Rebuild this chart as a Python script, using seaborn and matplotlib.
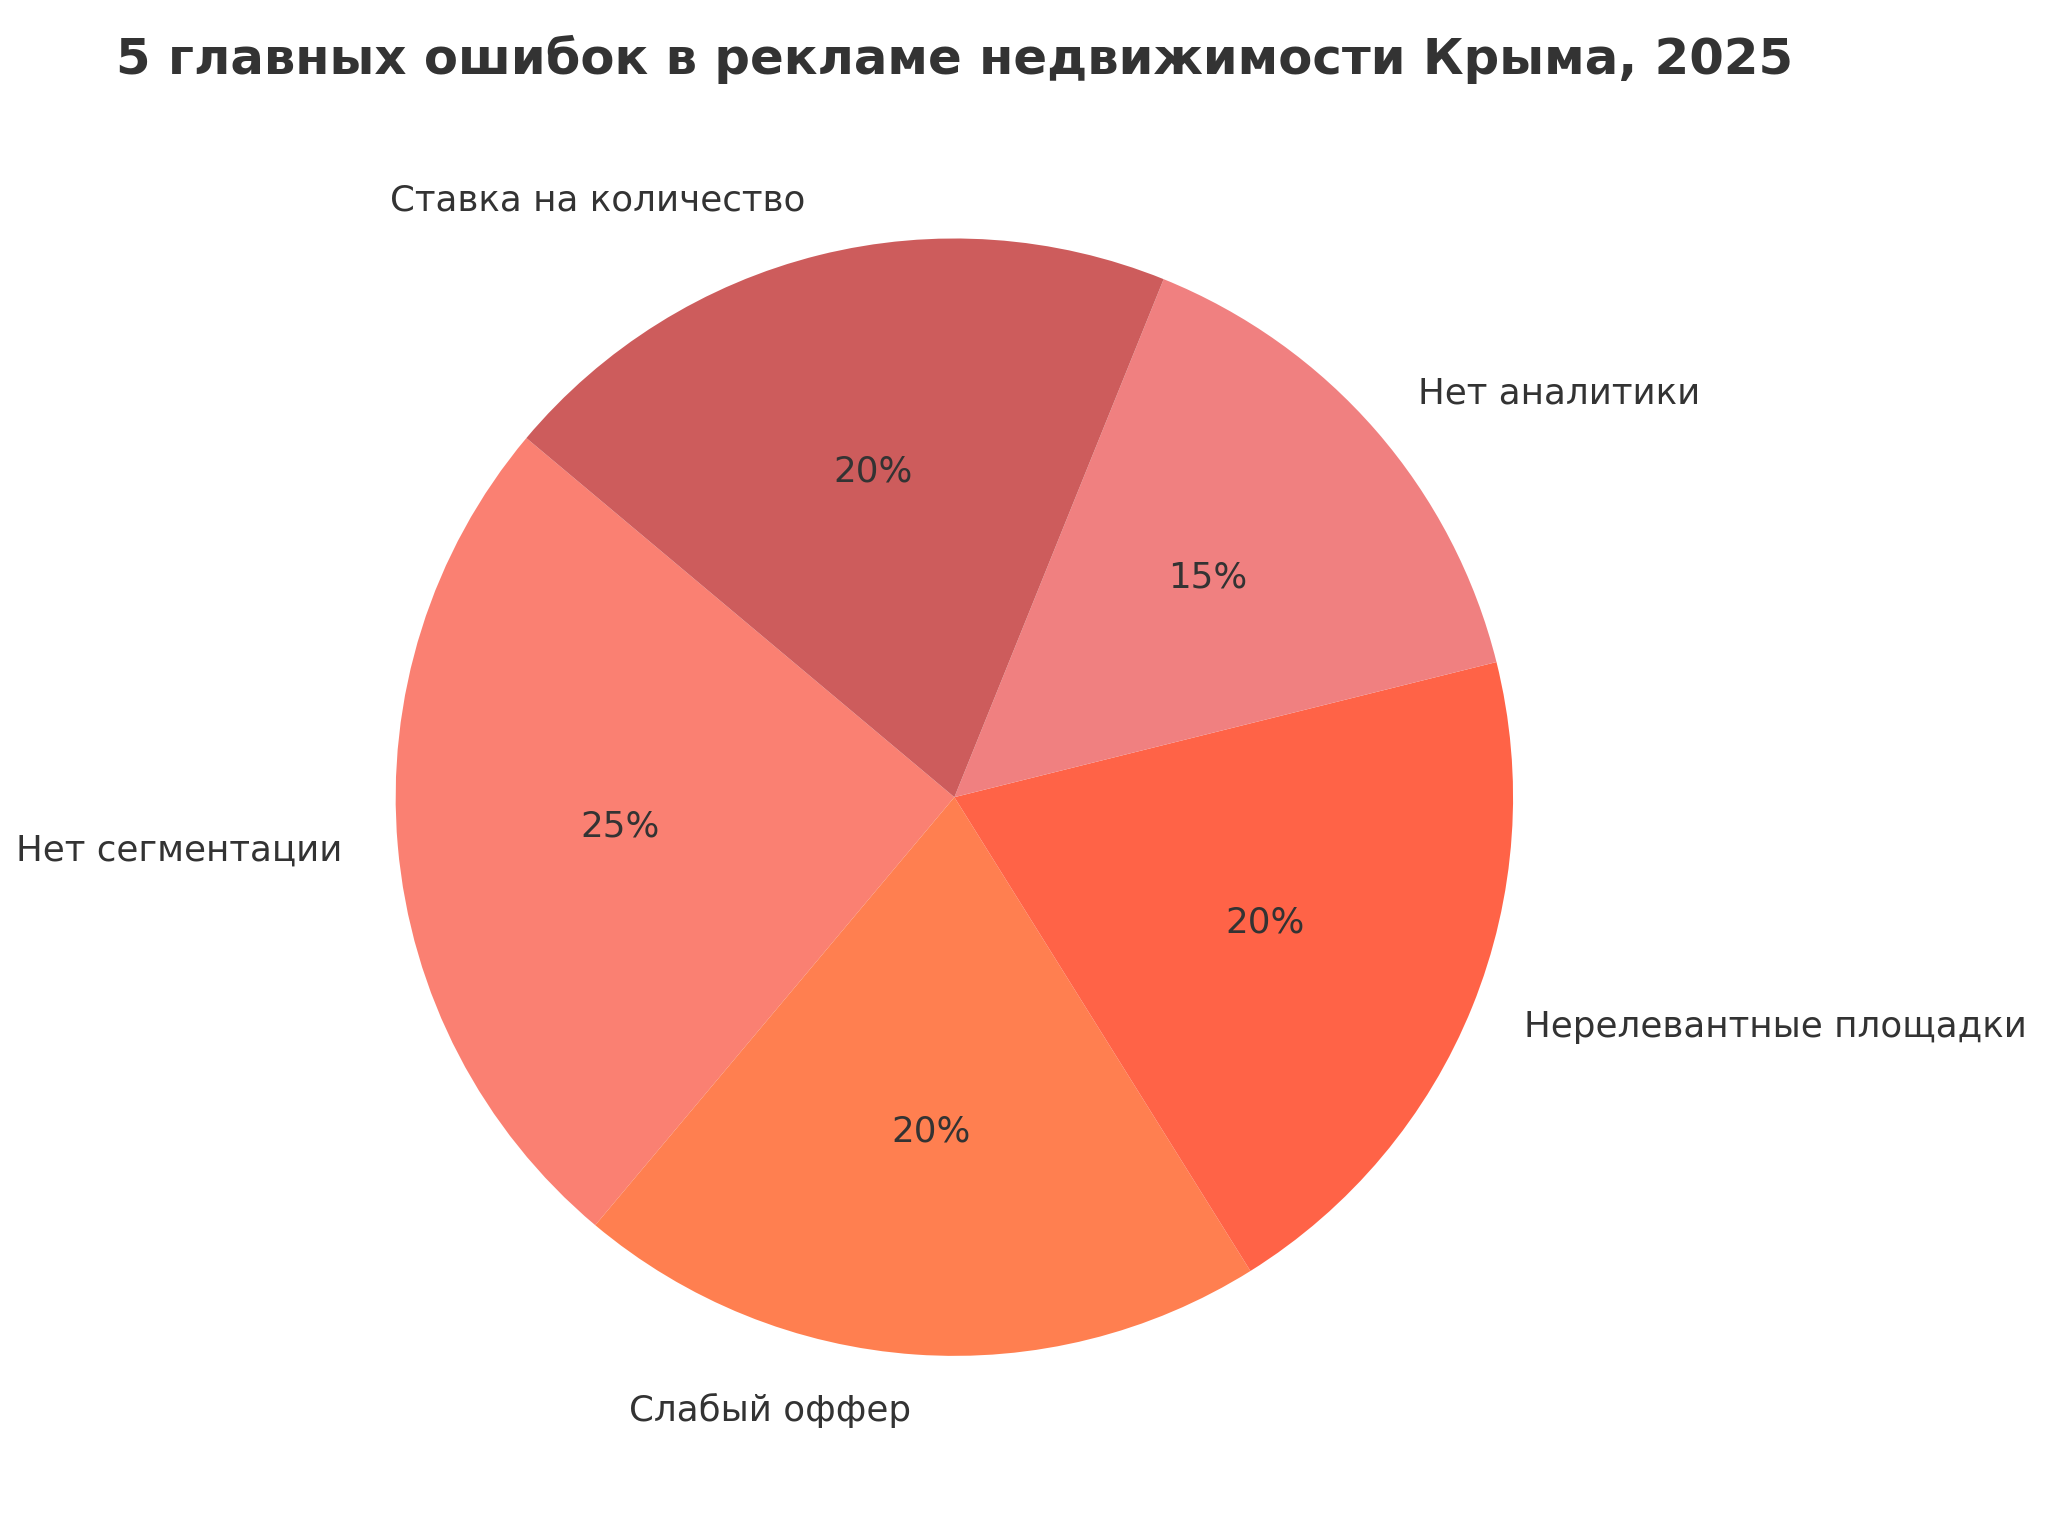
import matplotlib
matplotlib.use("Agg")
import matplotlib.pyplot as plt
import seaborn as sns

# data
labels = ["Нет сегментации", "Слабый оффер", "Нерелевантные площадки",
          "Нет аналитики", "Ставка на количество"]
shares = [25, 20, 20, 15, 20]
colors = ["#FA8072", "#FF7F50", "#FF6347", "#F08080", "#CD5C5C"]
title = "5 главных ошибок в рекламе недвижимости Крыма, 2025"

sns.set_theme(style="white")
plt.rcParams['font.family'] = ['DejaVu Sans']
plt.rcParams['text.color'] = '#333333'

fig = plt.figure(figsize=(10.24, 7.68), dpi=200)
ax = fig.add_axes([0.125, 0.026, 0.682, 0.91])

wedges, texts, autotexts = ax.pie(
    shares, labels=labels, colors=sns.color_palette(colors),
    autopct='%1.0f%%', startangle=140,
    textprops={'fontsize': 12.85, 'color': '#333333'},
    wedgeprops={'linewidth': 0, 'edgecolor': 'none'},
)
ax.set_aspect('equal')

fig.text(0.466, 0.961, title, ha='center', va='center',
         fontsize=17.9, fontweight='bold', color='#333333')

fig.savefig("out.png", dpi=200)
